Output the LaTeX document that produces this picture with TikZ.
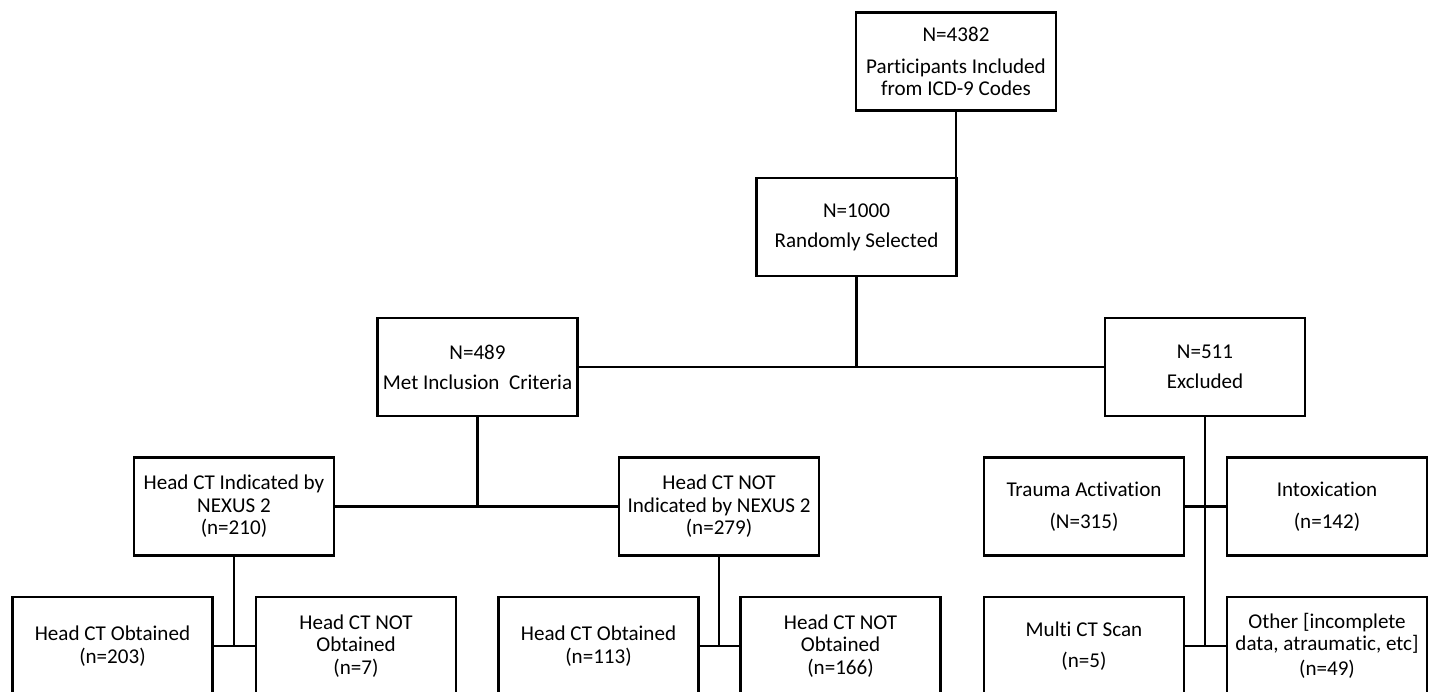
\documentclass[tikz,border=0pt]{standalone}
\usepackage{fontspec}
\setmainfont{Carlito}[Ligatures=NoCommon]
\usepackage{xcolor}

\begin{document}
\begin{tikzpicture}[x=0.02cm, y=-0.02cm,
	box/.style={draw, line width=1.5pt, minimum width=4cm, minimum height=1.96cm,
		inner sep=0pt, align=center, font=\fontsize{12}{12.8}\selectfont},
	link/.style={line width=1.5pt}]
	\useasboundingbox (0,0) rectangle (1435,691);
	\clip (0,0) rectangle (1435,691);
	% top of the tree
	\node[box] (total) at (956,61.5) {N=4382\\[0.18cm]Participants Included\\from ICD-9 Codes};
	\node[box] (random) at (856.5,227) {N=1000\\[0.15cm]Randomly Selected};
	\node[box] (met) at (477.5,367) {N=489\\[0.15cm]Met Inclusion\ \ Criteria};
	\node[box] (excl) at (1205,367) {N=511\\[0.15cm]Excluded};
	% inclusion branch
	\node[box] (ind) at (234,506.5) {Head CT Indicated by\\NEXUS 2\\(n=210)};
	\node[box] (notind) at (719,506.5) {Head CT NOT\\Indicated by NEXUS 2\\(n=279)};
	\node[box] (obtA) at (112.5,646) {Head CT Obtained\\(n=203)};
	\node[box] (notobtA) at (356,646) {Head CT NOT\\Obtained\\(n=7)};
	\node[box] (obtB) at (598.5,646) {Head CT Obtained\\(n=113)};
	\node[box] (notobtB) at (840.5,646) {Head CT NOT\\Obtained\\(n=166)};
	% exclusion branch
	\node[box] (trauma) at (1084,506.5) {Trauma Activation\\[0.18cm](N=315)};
	\node[box] (intox) at (1327,506.5) {Intoxication\\[0.18cm](n=142)};
	\node[box] (multi) at (1084,646) {Multi CT Scan\\[0.18cm](n=5)};
	\node[box] (other) at (1327,646) {Other [incomplete\\data, atraumatic, etc]\\[0.05cm](n=49)};

	\draw[link] (total.south) -- (total.south |- random.north);
	\draw[link] (met.east) -- (excl.west);
	\draw[link] (random.south) -- (random.south |- met.east);
	\draw[link] (ind.east) -- (notind.west);
	\draw[link] (met.south) -- (met.south |- ind.east);
	\draw[link] (obtA.east) -- (notobtA.west);
	\draw[link] (ind.south) -- (ind.south |- obtA.east);
	\draw[link] (obtB.east) -- (notobtB.west);
	\draw[link] (notind.south) -- (notind.south |- obtB.east);
	\draw[link] (trauma.east) -- (intox.west);
	\draw[link] (multi.east) -- (other.west);
	\draw[link] (excl.south) -- (excl.south |- multi.east);
\end{tikzpicture}
\end{document}
